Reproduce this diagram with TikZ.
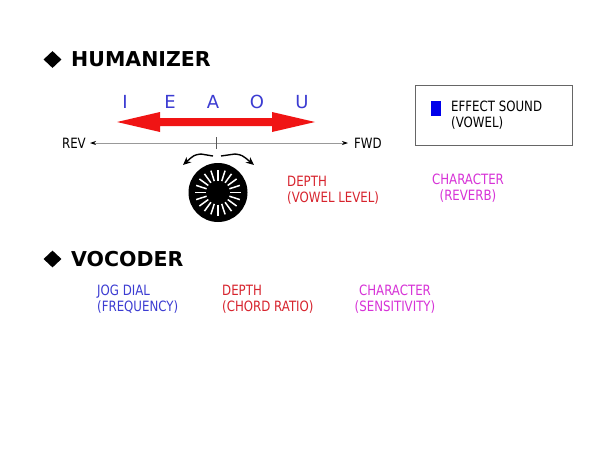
\documentclass[tikz,border=0pt]{standalone}
\usepackage{fontspec}
\setmainfont{DejaVu Sans}
\newfontfamily\labfont[FakeStretch=0.83]{DejaVu Sans}
\usetikzlibrary{arrows.meta,shapes.geometric}
\definecolor{vowelblue}{RGB}{60,60,210}
\definecolor{labred}{RGB}{215,35,45}
\definecolor{labmag}{RGB}{215,50,215}
\definecolor{arrred}{RGB}{240,20,20}
\definecolor{effblue}{RGB}{0,0,235}
\tikzset{
  bullet/.style={diamond, fill=black, minimum width=18pt, minimum height=17pt, inner sep=0pt},
  title/.style={anchor=west, inner sep=0pt, font=\bfseries\fontsize{20.5}{24}\selectfont},
  vowel/.style={inner sep=0pt, text=vowelblue, font=\fontsize{18}{20}\selectfont},
  lab/.style={inner sep=0pt, align=left, font=\labfont\fontsize{14.2}{16}\selectfont},
  labc/.style={inner sep=0pt, align=center, font=\labfont\fontsize{14.2}{16}\selectfont},
}
\begin{document}
\begin{tikzpicture}[x=1pt,y=-1pt]
\path[use as bounding box, fill=white] (0,0) rectangle (600,450);

% HUMANIZER
\node[bullet] (b1) at (52.5,59.5) {};
\node[title] (hum) at (71,59.5) {HUMANIZER};

% vowels
\node[vowel] (vI) at (125,102) {I};
\node[vowel] (vE) at (170,102) {E};
\node[vowel] (vA) at (213,102) {A};
\node[vowel] (vO) at (257,102) {O};
\node[vowel] (vU) at (302,102) {U};

% red double arrow
\fill[arrred] (117,122) -- (160,112) -- (160,118) -- (272,118) -- (272,112)
  -- (315,122) -- (272,132) -- (272,126) -- (160,126) -- (160,132) -- cycle;

% axis
\node[lab, anchor=east] (rev) at (86,143) {REV};
\node[lab, anchor=west] (fwd) at (354,143) {FWD};
\draw[gray!80, line width=0.8pt, shorten <=4pt, shorten >=6pt,
  {Stealth[length=6pt,width=4pt,color=black]}-{Stealth[length=6pt,width=4pt,color=black]}]
  (rev.east) -- (fwd.west);
\draw[gray!70!black, line width=0.7pt] (216,137) -- (216,149);

% knob
\node[circle, fill=black, minimum size=59pt, inner sep=0pt] (knob) at (218,192.5) {};
\foreach \a in {0,18,...,342}
  \draw[white, line width=1.5pt, shift={(knob.center)}] (\a:12) -- (\a:23);
\coordinate (la) at (213,156);
\coordinate (lt) at (183,165);
\coordinate (ra) at (221,156);
\coordinate (rt) at (254,165);
\draw[black, line width=1.4pt, -{Stealth[length=8pt,width=7pt]}]
  (la) -- (201,154) .. controls (194,155) .. (lt);
\draw[black, line width=1.4pt, -{Stealth[length=8pt,width=7pt]}]
  (ra) -- (235,154) .. controls (242,155) .. (rt);

% labels
\node[lab, anchor=north west, text=labred] (depth1) at (287,176) {DEPTH\\(VOWEL LEVEL)};
\node[labc, anchor=north, text=labmag] (char1) at (468,174) {CHARACTER\\(REVERB)};

% legend box
\node[draw=gray!80!black, line width=0.9pt, minimum width=157pt, minimum height=60pt, inner sep=0pt] (legend) at (493.5,115) {};
\node[fill=effblue, minimum width=10pt, minimum height=15pt, inner sep=0pt] (effsw) at (436,108.5) {};
\node[lab, anchor=north west] (efftxt) at (451,101) {EFFECT SOUND\\(VOWEL)};

% VOCODER
\node[bullet] (b2) at (52.5,259) {};
\node[title] (voc) at (71,259) {VOCODER};

\node[lab, anchor=north west, text=vowelblue] (jog) at (97,285) {JOG DIAL\\(FREQUENCY)};
\node[lab, anchor=north west, text=labred] (depth2) at (222,285) {DEPTH\\(CHORD RATIO)};
\node[labc, anchor=north, text=labmag] (char2) at (395,285) {CHARACTER\\(SENSITIVITY)};
\end{tikzpicture}
\end{document}
